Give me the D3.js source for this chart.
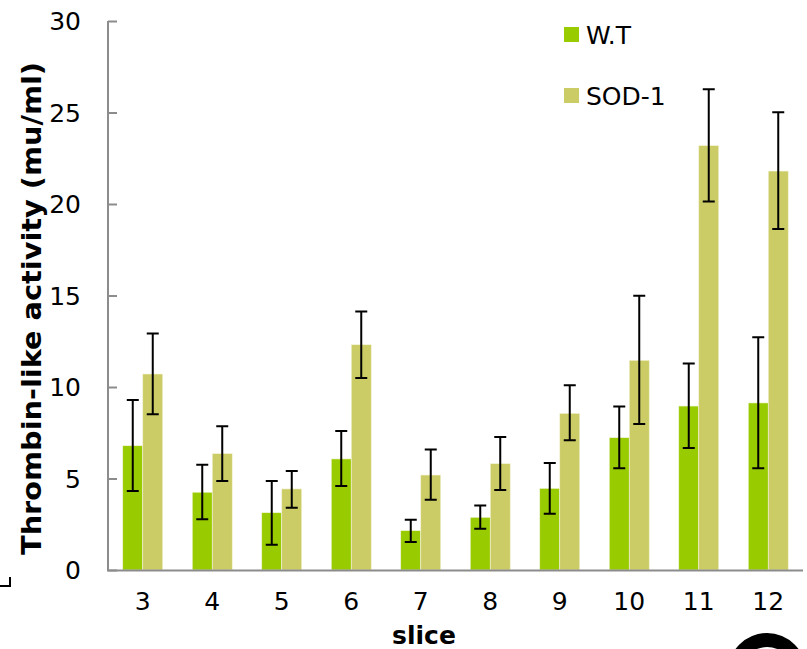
<!DOCTYPE html>
<html>
<head>
<meta charset="utf-8">
<script src="https://cdn.jsdelivr.net/npm/d3@7"></script>
<style>
  html, body { margin: 0; padding: 0; background: #fff; }
  svg { display: block; }
  text { font-family: "DejaVu Sans", Verdana, sans-serif; fill: #000; }
</style>
</head>
<body>
<svg id="chart" width="807" height="649"></svg>
<script>
// ---- data ----
const categories = ["3", "4", "5", "6", "7", "8", "9", "10", "11", "12"];
const seriesNames = ["W.T", "SOD-1"];
const wtValues   = [6.79, 4.25, 3.13, 6.07, 2.15, 2.88, 4.46, 7.23, 8.96, 9.13];
const wtErrHigh  = [9.29, 5.75, 4.86, 7.60, 2.75, 3.52, 5.85, 8.93, 11.29, 12.72];
const wtErrLow   = [4.32, 2.77, 1.38, 4.59, 1.53, 2.26, 3.08, 5.56, 6.67, 5.56];
const sodValues  = [10.71, 6.36, 4.43, 12.31, 5.19, 5.81, 8.56, 11.46, 23.19, 21.80];
const sodErrHigh = [12.93, 7.85, 5.41, 14.13, 6.59, 7.27, 10.09, 14.99, 26.27, 25.01];
const sodErrLow  = [8.51, 4.86, 3.40, 10.49, 3.84, 4.37, 7.09, 7.98, 20.13, 18.63];
const yTicks = [0, 5, 10, 15, 20, 25, 30];
const colors = ["#99CC00", "#CCCC66"];

const rows = categories.map((c, i) => ({
  cat: c,
  vals: [
    { s: seriesNames[0], v: wtValues[i], lo: wtErrLow[i], hi: wtErrHigh[i] },
    { s: seriesNames[1], v: sodValues[i], lo: sodErrLow[i], hi: sodErrHigh[i] }
  ]
}));

const svg = d3.select("#chart");
const axisColor = "#8c8c8c";

const x0 = d3.scaleBand().domain(categories).range([108, 803]).padding(0);
const x1 = d3.scaleBand().domain(seriesNames).range([0, x0.bandwidth()])
  .paddingInner(0).paddingOuter(0.7375);
const y = d3.scaleLinear().domain([0, 30]).range([570, 21]);
const color = d3.scaleOrdinal().domain(seriesNames).range(colors);

// bars
const groups = svg.append("g").selectAll("g").data(rows).join("g")
  .attr("transform", d => `translate(${x0(d.cat)},0)`);

groups.selectAll("rect").data(d => d.vals).join("rect")
  .attr("x", d => x1(d.s))
  .attr("width", x1.bandwidth())
  .attr("y", d => y(d.v))
  .attr("height", d => y(0) - y(d.v))
  .attr("fill", d => color(d.s))
  .attr("stroke", "#f4f4dc")
  .attr("stroke-width", 0.6);

// error bars
const cap = 6;
groups.selectAll("path.err").data(d => d.vals).join("path")
  .attr("class", "err")
  .attr("d", d => {
    const cx = x1(d.s) + x1.bandwidth() / 2;
    return `M${cx - cap},${y(d.hi)}H${cx + cap}M${cx},${y(d.hi)}V${y(d.lo)}M${cx - cap},${y(d.lo)}H${cx + cap}`;
  })
  .attr("fill", "none")
  .attr("stroke", "#000")
  .attr("stroke-width", 2);

// y axis
const yAxis = d3.axisRight(y).tickValues(yTicks).tickSize(9).tickFormat("");
const gy = svg.append("g").attr("transform", "translate(108,0)").call(yAxis);
gy.select(".domain").remove();
gy.selectAll(".tick line").attr("stroke", axisColor).attr("stroke-width", 2);
svg.append("line").attr("x1", 108).attr("x2", 108).attr("y1", y(30)).attr("y2", y(0) + 1)
  .attr("stroke", axisColor).attr("stroke-width", 2);

svg.append("g").selectAll("text").data(yTicks).join("text")
  .attr("x", 81).attr("y", d => y(d))
  .attr("dy", "0.36em")
  .attr("text-anchor", "end")
  .style("font-size", "25px")
  .text(d => d);

// x axis
const xAxis = d3.axisBottom(x0).tickSize(0).tickPadding(22);
const gx = svg.append("g").attr("transform", `translate(0,${y(0)})`).call(xAxis);
gx.select(".domain").remove();
gx.selectAll(".tick text").style("font-size", "25px")
  .style("font-family", "'DejaVu Sans', Verdana, sans-serif").attr("fill", "#000");
svg.append("line").attr("x1", 107).attr("x2", 803).attr("y1", y(0) + 0.5).attr("y2", y(0) + 0.5)
  .attr("stroke", axisColor).attr("stroke-width", 2);

// axis titles
svg.append("text")
  .attr("transform", `translate(41,${(62 + 555) / 2}) rotate(-90)`)
  .attr("text-anchor", "middle")
  .attr("textLength", 493)
  .attr("lengthAdjust", "spacingAndGlyphs")
  .style("font-size", "26px").style("font-weight", "bold")
  .text("Thrombin-like activity (mu/ml)");

svg.append("text")
  .attr("x", 424).attr("y", 644)
  .attr("text-anchor", "middle")
  .style("font-size", "25px").style("font-weight", "bold")
  .text("slice");

// legend
const legendY = [34.5, 95.5];
const lg = svg.append("g").selectAll("g").data(seriesNames).join("g")
  .attr("transform", (d, i) => `translate(564,${legendY[i]})`);
lg.append("rect").attr("x", 0).attr("y", -7.5).attr("width", 15).attr("height", 15)
  .attr("fill", d => color(d));
lg.append("text").attr("x", 22).attr("dy", "0.36em")
  .style("font-size", "25px").text(d => d);

// decorations: corner mark and partial logo ring
svg.append("path").attr("d", "M0,586H10V577").attr("fill", "none")
  .attr("stroke", "#000").attr("stroke-width", 2);
svg.append("circle").attr("cx", 767).attr("cy", 672).attr("r", 39).attr("fill", "#000");
svg.append("circle").attr("cx", 767).attr("cy", 674).attr("r", 27).attr("fill", "#fff");
</script>
</body>
</html>
